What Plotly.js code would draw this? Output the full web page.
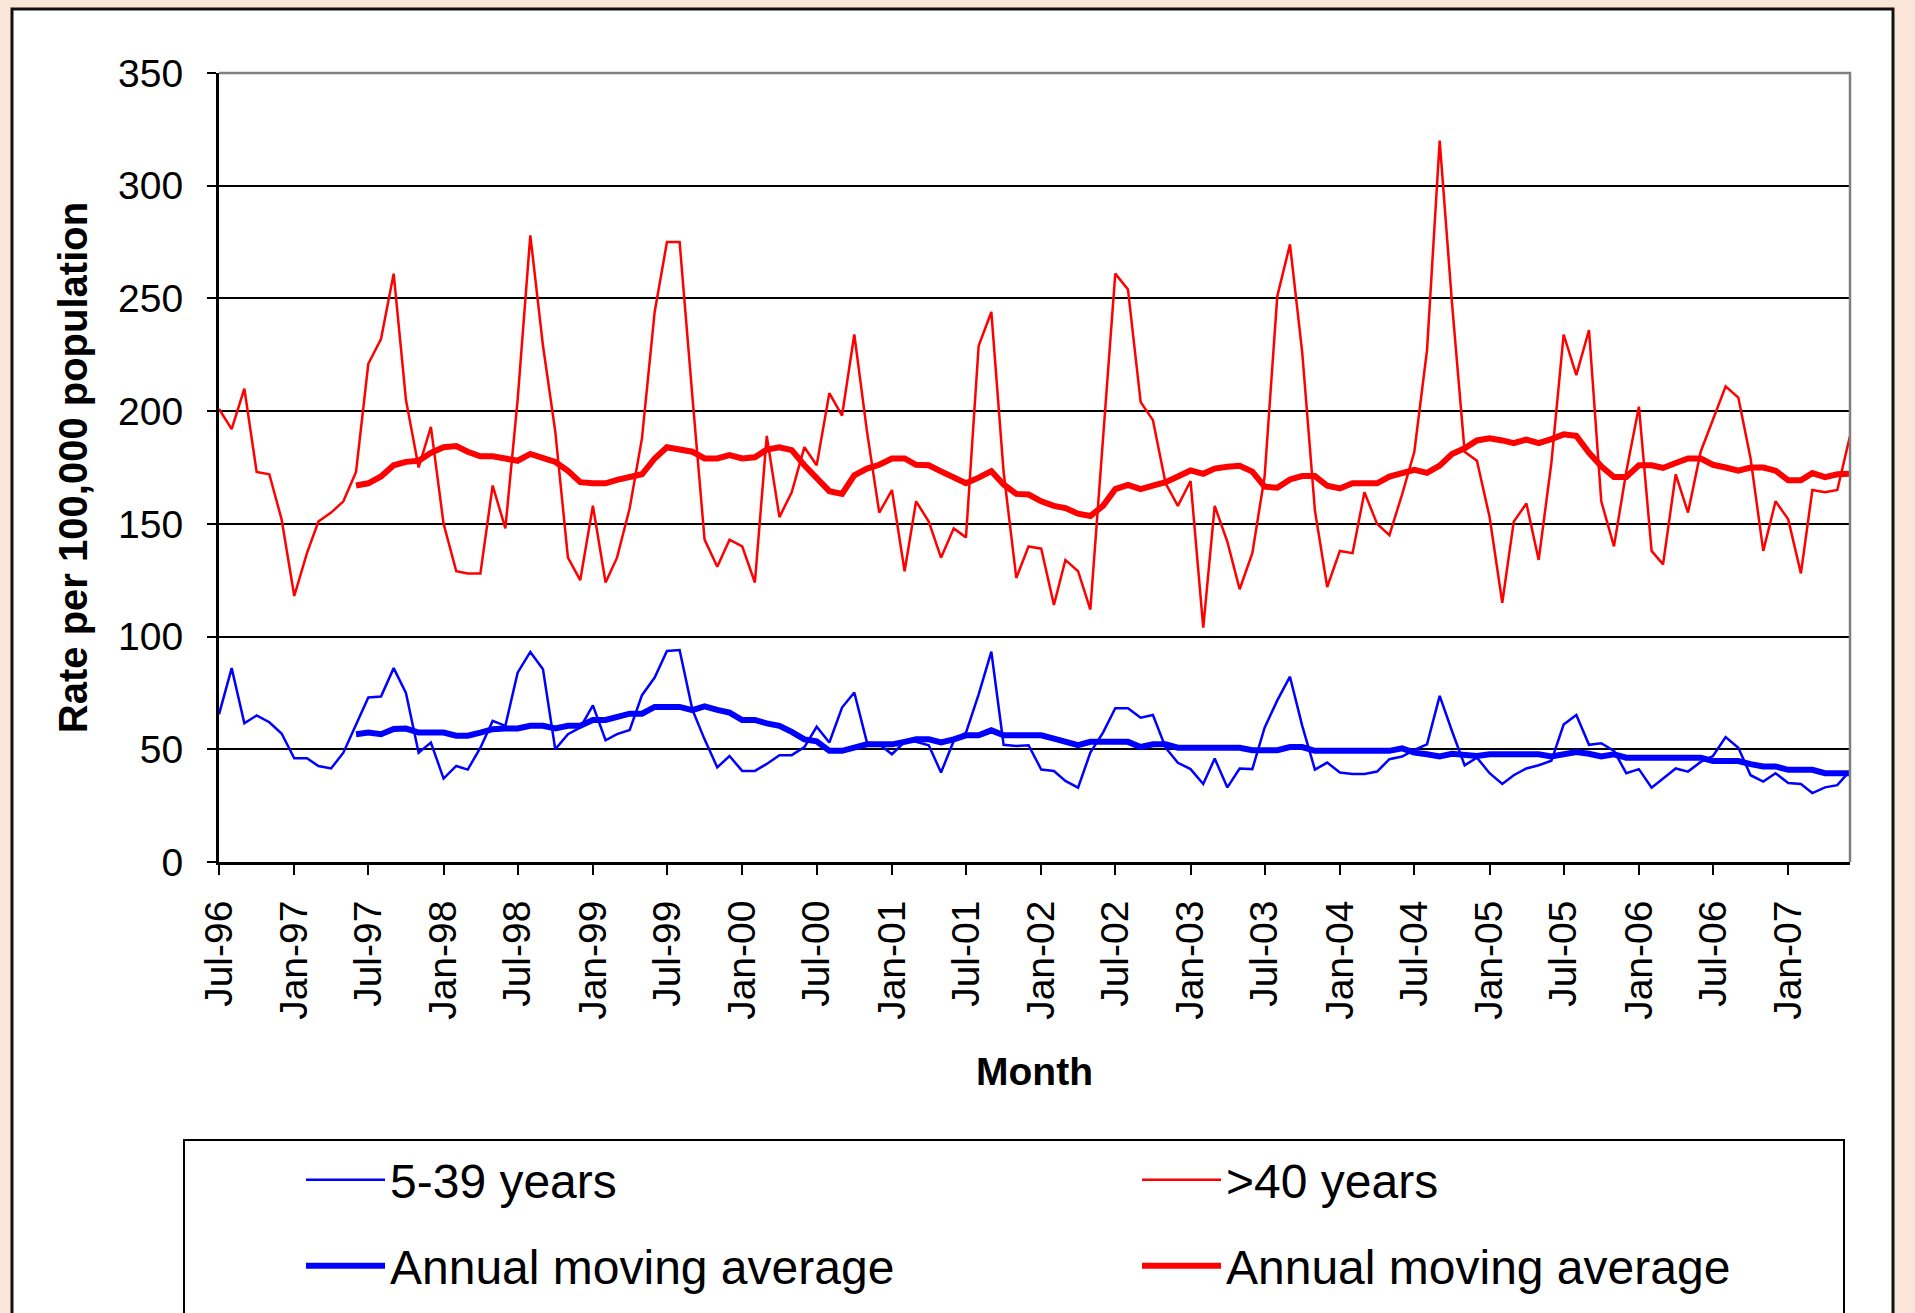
<!DOCTYPE html>
<html>
<head>
<meta charset="utf-8">
<script src="https://cdn.plot.ly/plotly-3.0.1.min.js"></script>
<style>
html,body{margin:0;padding:0;overflow:hidden;background:#fbe5d9;}
#chart{width:1915px;height:1313px;}
</style>
</head>
<body>
<div id="chart"></div>
<script>
// ---- data (monthly, starting Jul-1996) ----
const firstMonth = {year: 1996, month: 7};
const maStartIndex = 11; // moving average first drawn at Jun-1997

const age5to39 = [65.5,86,61.5,65,62,57,46,46,42.6,41.5,48.5,60.7,73,73.4,86,75,48.5,53,37,42.6,41,50.7,62.6,60.4,
  84,93.2,85.5,50,56.7,59.6,69.5,54,56.7,58.6,74,81.8,93.6,94,67.7,54.4,42,47,40.4,40.4,
  43.5,47.4,47.4,51,60,53,68.5,75.2,53,52.2,47.8,53.3,53.3,51.8,39.7,53.7,57.4,74.4,93.3,52,51.5,51.8,
  41,40.4,36,33,48.5,57.4,68.2,68.2,64,65.2,50.7,44,41.2,34.6,45.9,33.1,41.5,41.2,59.6,71.7,82.2,60.4,
  41,44.1,39.7,39,39,40.1,45.6,46.8,49.7,52.2,73.7,58.1,42.9,46.3,39.4,34.6,38.5,41.5,42.9,44.9,61,65.2,
  52,52.7,49.3,39.4,41.2,33,37,41.5,40.1,44.4,47,55.4,50.7,38.5,35.7,39.4,35,34.6,30.6,33.1,34.1,40.4];

const ageOver40 = [201,192,210,173,172,152,118,137,151,155,160,173,221,232,261,205,175,193,150,129,128,128,167,148,
  205,278,229,191,135,125,158,124,135,157,188,244,275,275,207,143,131,143,140,124,
  189,153,164,184,176,208,198,234,191,155,165,129,160,151,135,148,144,229,244,173,126,140,
  139,114,134,129,112,187,261,254,204,196,168,158,169,104,158,142,121,137,171,251,274,226,
  156,122,138,137,164,150,145,163,182,227,320,248,182,178,153,115,151,159,134,177,234,216,
  236,160,140,173,202,138,132,172,155,182,196,211,206,179,138,160,152,128,165,164,165,189];

const age5to39MA = [56.7,57.4,56.7,59,59.2,57.4,57.4,57.4,56,56,57.4,58.9,59.2,
  59.2,60.4,60.4,59.2,60.4,60.4,63,63,64.4,65.8,65.8,68.8,68.8,68.8,67.4,69,67.5,66.3,63,63,
  61.5,60.4,57.7,54.4,53.5,49.3,49.3,50.7,52.2,52.2,52.2,53.3,54.4,54.4,53,54.4,56.2,56.2,58.4,56.2,56.2,56.2,
  56.2,54.7,53.3,51.8,53.3,53.3,53.3,53.3,51,52.2,52.2,50.7,50.7,50.7,50.7,50.7,50.7,49.6,49.6,49.6,51,51,
  49.3,49.3,49.3,49.3,49.3,49.3,49.3,50.4,48.5,47.8,46.8,48,47.8,47,47.8,47.8,47.8,47.8,47.8,46.8,47.8,48.8,
  48,46.8,47.8,46.3,46.3,46.3,46.3,46.3,46.3,46.3,44.8,44.8,44.8,43.4,42.4,42.4,40.9,40.9,40.9,39.4,39.4,39.4];

const ageOver40MA = [167,168,171,176,177.5,178,181.5,184,184.5,182,180,180,179,
  178,181,179.5,177.5,173.5,168.5,168,168,169.5,171,172,179,184,183,182,179,179,180.5,179,179.5,
  183,184,182.7,176,170.5,164.5,163.3,171.5,174.5,176.2,179,179,176.2,176,173.3,170.3,168,170.5,173.4,167.5,163.3,163,
  160,158,157,154.5,153.5,158,165.4,167.3,165.4,167,168.5,171,173.7,172.2,174.5,175.3,175.8,173.2,166.5,166,169.7,171.2,
  171.2,166.9,165.7,168,168,168,171,172.4,174,172.6,175.8,181,183.5,187,188,187,185.8,187.4,185.8,187.6,189.7,189,
  181.5,175.5,170.8,170.8,176,176,174.8,177,179,179,176.2,175,173.6,175,175,173.6,169.3,169.3,172.5,170.7,172,172.2];

const seriesNames = ['5-39 years', '>40 years', 'Annual moving average', 'Annual moving average'];
const yTicks = [0,50,100,150,200,250,300,350];

// ---- month categories ----
const months = [];
for (let k = 0; k < ageOver40.length; k++) {
  const m = firstMonth.month - 1 + k;
  const y = firstMonth.year + Math.floor(m / 12);
  const mm = (m % 12) + 1;
  months.push(y + '-' + String(mm).padStart(2, '0') + '-01');
}
const maMonths = months.slice(maStartIndex);

// ---- geometry helpers (page pixels -> paper fraction) ----
const ML = 219, MR = 65, MT = 73, MB = 451, W = 1915, H = 1313;
const PW = W - ML - MR, PH = H - MT - MB;
const px = v => (v - ML) / PW;
const py = v => (H - MB - v) / PH;

const FONT = 'Arial, "Liberation Sans", sans-serif';

const traces = [
  {x: months, y: age5to39, name: seriesNames[0], type: 'scatter', mode: 'lines',
   line: {color: '#0000ff', width: 2.5}, legend: 'legend'},
  {x: months, y: ageOver40, name: seriesNames[1], type: 'scatter', mode: 'lines',
   line: {color: '#ff0000', width: 2.5}, legend: 'legend'},
  {x: maMonths, y: age5to39MA, name: seriesNames[2], type: 'scatter', mode: 'lines',
   line: {color: '#0000ff', width: 6}, legend: 'legend2'},
  {x: maMonths, y: ageOver40MA, name: seriesNames[3], type: 'scatter', mode: 'lines',
   line: {color: '#ff0000', width: 6}, legend: 'legend2'}
];

const legendCommon = {
  orientation: 'h', xanchor: 'left', yanchor: 'top',
  bgcolor: 'rgba(0,0,0,0)', borderwidth: 0,
  font: {family: FONT, size: 48, color: '#000'},
  itemwidth: 79, indentation: 117, entrywidth: 625, traceorder: 'normal'
};

const layout = {
  width: W, height: H,
  margin: {l: ML, r: MR, t: MT, b: MB, pad: 0, autoexpand: false},
  paper_bgcolor: '#fbe5d9',
  plot_bgcolor: '#ffffff',
  font: {family: FONT, color: '#000'},
  showlegend: true,
  legend: Object.assign({}, legendCommon, {x: px(184), y: py(1142)}),
  legend2: Object.assign({}, legendCommon, {x: px(184), y: py(1228)}),
  xaxis: {
    type: 'date',
    range: [months[0], months[months.length - 1]],
    tick0: months[0], dtick: 'M6', tickformat: '%b-%y', tickangle: -90,
    ticks: 'outside', ticklen: 10, tickwidth: 2, tickcolor: '#000',
    showline: true, linecolor: '#000', linewidth: 3,
    showgrid: false, zeroline: false,
    tickfont: {family: FONT, size: 39, color: '#000'},
    ticklabelstandoff: 10,
    title: {text: 'Month', font: {family: FONT, size: 39, color: '#000', weight: 'bold'}, standoff: 39}
  },
  yaxis: {
    range: [0, 350], tickvals: yTicks,
    ticks: 'outside', ticklen: 9, tickwidth: 2, tickcolor: '#000',
    showline: true, linecolor: '#000', linewidth: 3,
    showgrid: true, gridcolor: '#000', gridwidth: 2, zeroline: false,
    tickfont: {family: FONT, size: 39, color: '#000'},
    ticklabelstandoff: 16,
    title: {text: 'Rate per 100,000 population', font: {family: FONT, size: 40, color: '#000', weight: 'bold'}, standoff: 19}
  },
  shapes: [
    {type: 'rect', xref: 'paper', yref: 'paper', layer: 'below',
     x0: px(12), x1: px(1893), y0: py(1340), y1: py(9),
     fillcolor: '#ffffff', line: {color: '#111', width: 3}},
    {type: 'rect', xref: 'paper', yref: 'paper', layer: 'below',
     x0: px(184), x1: px(1844), y0: py(1340), y1: py(1140),
     fillcolor: '#ffffff', line: {color: '#000', width: 2}},
    {type: 'path', xref: 'paper', yref: 'paper', layer: 'above',
     path: 'M0,1 L1,1 L1,0', line: {color: '#808080', width: 2.5}}
  ]
};

Plotly.newPlot('chart', traces, layout, {displayModeBar: false, staticPlot: true});
</script>
</body>
</html>
